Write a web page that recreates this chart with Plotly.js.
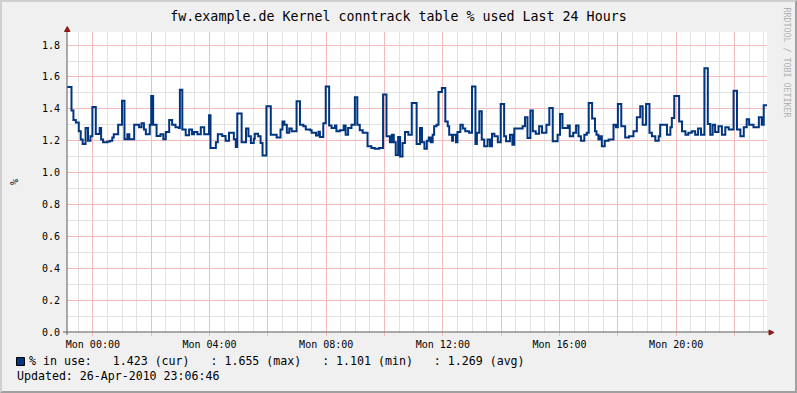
<!DOCTYPE html>
<html>
<head>
<meta charset="utf-8">
<script src="https://cdn.plot.ly/plotly-3.0.1.min.js"></script>
<style>
  html, body { margin: 0; padding: 0; background: #f0f0f0; }
  #wrap { position: relative; width: 797px; height: 393px; }
  #chart { width: 797px; height: 393px; }
  #frame { position: absolute; left: 0; top: 0; width: 797px; height: 393px; box-sizing: border-box;
           border-top: 2px solid #cfcfcf; border-left: 2px solid #cfcfcf;
           border-bottom: 2px solid #a0a0a0; border-right: 2px solid #a0a0a0; pointer-events: none; }
</style>
</head>
<body>
<div id="wrap"><div id="chart"></div><div id="frame"></div></div>
<script>
// Minutes relative to Mon 00:00 (start of each step) and % of conntrack table used
const minutes = [-53,-44,-40,-35,-29,-25,-21,-15,-10,-5,-1,6,14,17,21,30,35,40,43,52,60,65,71,75,85,95,100,105,109,117,120,124,131,139,145,150,157,163,170,177,179,184,191,198,204,208,215,222,229,239,242,253,257,266,273,280,290,294,297,306,
315,320,325,331,333,340,345,349,357,366,378,386,390,394,399,404,409,419,426,433,438,447,450,459,464,467,474,479,486,491,498,501,508,516,520,525,532,539,544,549,555,565,573,580,589,597,604,611,615,619,623,628,632,637,642,649,656,
666,673,677,682,687,691,695,699,702,707,711,718,725,730,733,739,741,747,750,756,761,766,774,780,787,790,795,800,805,812,817,821,826,833,839,846,850,858,863,867,884,889,894,900,905,911,918,924,933,939,946,956,961,966,977,981,988,994,999,1004,1011,1016,1020,1027,
1033,1036,1040,1044,1047,1053,1061,1071,1076,1080,1087,1095,1103,1112,1119,1126,1131,1138,1145,1150,1157,1164,1167,1181,1188,1191,1196,1206,1212,1219,1225,1232,1239,1245,1251,1258,1265,1270,1275,1280,1287,1294,1301,1308,1318,1325,1332,1339,1345,1350,1359,1370,1376,1380,1387];
const pctUsed = [1.537,1.39,1.33,1.315,1.26,1.207,1.18,1.28,1.20,1.228,1.412,1.242,1.28,1.207,1.19,1.195,1.20,1.22,1.24,1.30,1.45,1.21,1.24,1.21,1.30,1.285,1.31,1.27,1.24,1.30,1.48,1.30,1.23,1.24,1.21,1.255,1.33,1.30,1.285,1.28,1.52,1.27,1.235,1.27,1.24,1.255,1.24,1.285,1.24,1.36,1.155,1.19,1.24,1.23,1.20,1.25,1.21,1.16,1.37,1.19,
1.276,1.228,1.186,1.213,1.244,1.228,1.186,1.108,1.416,1.238,1.22,1.27,1.32,1.30,1.25,1.276,1.26,1.447,1.30,1.29,1.27,1.265,1.25,1.233,1.257,1.223,1.31,1.54,1.296,1.28,1.296,1.26,1.265,1.296,1.238,1.28,1.30,1.473,1.30,1.265,1.25,1.165,1.155,1.15,1.155,1.49,1.228,1.19,1.238,1.19,1.11,1.223,1.101,1.186,1.255,1.238,1.437,
1.18,1.28,1.19,1.15,1.20,1.22,1.19,1.238,1.29,1.30,1.506,1.53,1.32,1.29,1.238,1.20,1.238,1.19,1.255,1.30,1.276,1.26,1.25,1.54,1.18,1.25,1.385,1.207,1.165,1.207,1.165,1.244,1.228,1.19,1.43,1.228,1.196,1.238,1.175,1.276,1.29,1.347,1.217,1.39,1.26,1.244,1.29,1.25,1.30,1.405,1.196,1.238,1.368,1.28,1.296,1.228,1.25,1.296,1.228,1.20,1.238,1.25,1.437,1.34,
1.26,1.238,1.207,1.228,1.165,1.20,1.207,1.30,1.285,1.43,1.29,1.22,1.228,1.26,1.347,1.416,1.30,1.43,1.25,1.228,1.20,1.228,1.30,1.238,1.285,1.343,1.48,1.32,1.26,1.238,1.25,1.26,1.238,1.276,1.238,1.655,1.305,1.238,1.30,1.255,1.29,1.238,1.285,1.27,1.514,1.27,1.228,1.285,1.335,1.30,1.285,1.347,1.30,1.423,1.423];

const xTickMinutes = [0,120,240,360,480,600,720,840,960,1080,1200,1320];
const xTickLabels = ["Mon 00:00","","Mon 04:00","","Mon 08:00","","Mon 12:00","","Mon 16:00","","Mon 20:00",""];
const yTickValues = [0,0.2,0.4,0.6,0.8,1.0,1.2,1.4,1.6,1.8];
const yTickLabels = ["0.0","0.2","0.4","0.6","0.8","1.0","1.2","1.4","1.6","1.8"];
const seriesName = "% in use:";
const statNames = ["cur","max","min","avg"];
const statValues = [1.423,1.655,1.101,1.269];
const updatedText = "Updated: 26-Apr-2010 23:06:46";
const titleText = "fw.example.de Kernel conntrack table % used Last 24 Hours";

const W = 797, H = 393, L = 67, R = 767, T = 32, B = 332;
const pw = R - L, ph = B - T;
const px = x => (x - L) / pw;
const py = y => (B - y) / ph;
const mono = "DejaVu Sans Mono, monospace";
const lineColor = "#00357f";
const nb = s => s.replace(/ /g, "\u00a0");

let legendText = seriesName + "   " + statValues.map((v, i) => v.toFixed(3) + " (" + statNames[i] + ")").join("   : ");

const trace = {
  x: minutes, y: pctUsed, type: "scatter", mode: "lines",
  line: { shape: "hv", width: 2, color: lineColor }, hoverinfo: "skip", showlegend: false
};

const axisCol = "#5a5a5a", arrowCol = "#8b1a1a";
const layout = {
  width: W, height: H,
  margin: { l: L, r: W - R, t: T, b: H - B, pad: 0 },
  paper_bgcolor: "#f0f0f0", plot_bgcolor: "#ffffff",
  showlegend: false,
  title: { text: titleText, x: 0.5, xref: "container", xanchor: "center",
           y: 1 - 16 / H, yref: "container", yanchor: "middle",
           font: { family: mono, size: 13.3, color: "#000" } },
  xaxis: {
    range: [-53.23, 1386.77], tickmode: "array", tickvals: xTickMinutes, ticktext: xTickLabels,
    showgrid: true, gridcolor: "#f4bcbc", gridwidth: 1, zeroline: false, showline: false,
    ticks: "outside", ticklen: 3, tickcolor: "#f4bcbc", ticklabelstandoff: 0,
    tickfont: { family: mono, size: 10, color: "#000" },
    minor: { tickmode: "linear", tick0: 0, dtick: 30, showgrid: true, gridcolor: "#e2e2e2", gridwidth: 1, ticks: "" },
    fixedrange: true
  },
  yaxis: {
    range: [0, 300 / 159.4], tickmode: "array", tickvals: yTickValues, ticktext: yTickLabels,
    showgrid: true, gridcolor: "#f4bcbc", gridwidth: 1, zeroline: false, showline: false,
    ticks: "", ticklabelstandoff: 6,
    tickfont: { family: mono, size: 10, color: "#000" },
    minor: { tickmode: "linear", tick0: 0, dtick: 0.1, showgrid: true, gridcolor: "#e2e2e2", gridwidth: 1, ticks: "" },
    fixedrange: true
  },
  shapes: [
    { type: "line", xref: "paper", yref: "paper", x0: px(63), x1: px(770), y0: 0, y1: 0, line: { color: axisCol, width: 1 } },
    { type: "line", xref: "paper", yref: "paper", x0: 0, x1: 0, y0: py(335), y1: py(31), line: { color: axisCol, width: 1 } },
    { type: "path", xref: "paper", yref: "paper", fillcolor: arrowCol, line: { color: arrowCol, width: 1 },
      path: `M ${px(64.5)} ${py(31.5)} L ${px(70)} ${py(31.5)} L ${px(67.3)} ${py(26.5)} Z` },
    { type: "path", xref: "paper", yref: "paper", fillcolor: arrowCol, line: { color: arrowCol, width: 1 },
      path: `M ${px(769)} ${py(330)} L ${px(769)} ${py(335)} L ${px(774)} ${py(332.5)} Z` },
    { type: "rect", xref: "paper", yref: "paper", x0: px(16.5), x1: px(24.5), y0: py(357.5), y1: py(365.5),
      fillcolor: lineColor, line: { color: "#000", width: 1 } }
  ],
  annotations: [
    { xref: "paper", yref: "paper", x: px(27), y: py(361), xanchor: "left", yanchor: "middle", showarrow: false,
      text: nb(legendText), font: { family: mono, size: 11.6, color: "#000" } },
    { xref: "paper", yref: "paper", x: px(14.5), y: py(376), xanchor: "left", yanchor: "middle", showarrow: false,
      text: nb(updatedText), font: { family: mono, size: 11.6, color: "#000" } },
    { xref: "paper", yref: "paper", x: px(14), y: py(182), xanchor: "center", yanchor: "middle", showarrow: false,
      text: "%", textangle: -90, font: { family: mono, size: 10, color: "#000" } },
    { xref: "paper", yref: "paper", x: px(787), y: py(62.5), xanchor: "center", yanchor: "middle", showarrow: false,
      text: nb("RRDTOOL / TOBI OETIKER"), textangle: 90, font: { family: mono, size: 8.3, color: "#b0b0b0" } }
  ]
};

Plotly.newPlot("chart", [trace], layout, { staticPlot: true, displayModeBar: false });
</script>
</body>
</html>
